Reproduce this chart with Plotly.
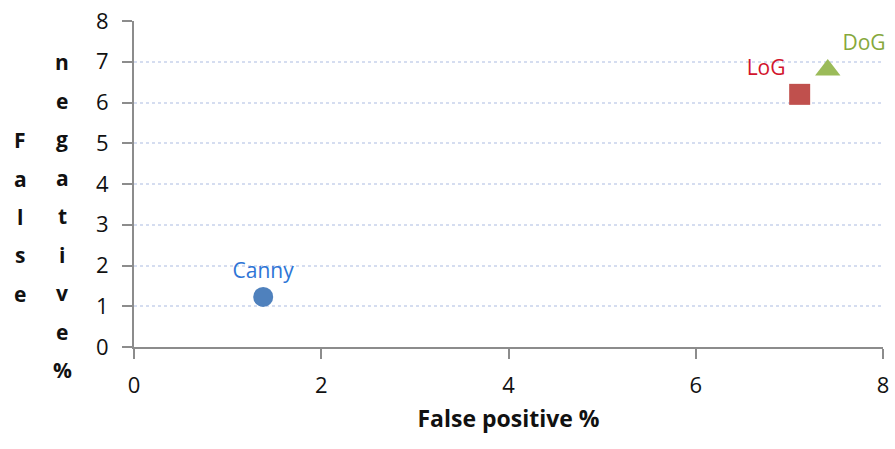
import plotly.graph_objects as go

names = ["Canny", "LoG", "DoG"]
false_pos = [1.38, 7.11, 7.41]
false_neg = [1.23, 6.2, 6.8]
symbols = ["circle", "square", "triangle-up"]
marker_colors = ["#4F81BD", "#C0504D", "#9BBB59"]
label_colors = ["#2E75D6", "#D2142D", "#86A83C"]
text_pos = ["top center", "top left", "top right"]
sizes = [20, 21, 22]

x_title = "False positive %"
y_title_col1 = "False"
y_title_col2 = "negative%"

FONT = "Open Sans"
fig = go.Figure()
for i, n in enumerate(names):
    fig.add_trace(go.Scatter(
        x=[false_pos[i]], y=[false_neg[i]], mode="markers+text",
        text=[n], textposition=text_pos[i],
        textfont=dict(color=label_colors[i], size=21, family=FONT),
        marker=dict(symbol=symbols[i], color=marker_colors[i], size=sizes[i], line=dict(width=0)),
        showlegend=False, cliponaxis=False,
    ))

axis_common = dict(
    range=[0, 8], dtick=2, showline=True, linecolor="#8C8C8C", linewidth=2,
    ticks="outside", ticklen=10, tickwidth=2, tickcolor="#8C8C8C",
    tickfont=dict(size=22, color="#111", family=FONT), zeroline=False, automargin=False,
    ticklabeloverflow="allow",
)
fig.update_xaxes(**axis_common, showgrid=False, ticklabelstandoff=8,
                 title=dict(text="<b>" + x_title + "</b>", font=dict(size=23, color="#111", family=FONT), standoff=12))
fig.update_yaxes(**{**axis_common, "dtick": 1}, showgrid=True, gridcolor="#D5DDF0", griddash="dot", gridwidth=2,
                 ticklabelstandoff=9)

# plot area target on screen: x 134..883, y 21..347 (body margin removed below)
W, H = 895, 449
L = 134
T = 21
R = W - 883
B = H - 347
pw = W - L - R
ph = H - T - B

def xpaper(px):
    return (px - L) / pw

def ypaper(py):
    return (H - B - py) / ph

annotations = []
for k, ch in enumerate(y_title_col1):
    py = 140 + k * 38.5
    annotations.append(dict(text="<b>" + ch + "</b>", x=xpaper(20), xref="paper", y=ypaper(py), yref="paper",
                            showarrow=False, font=dict(size=21, color="#111", family=FONT),
                            xanchor="center", yanchor="middle"))
for k, ch in enumerate(y_title_col2):
    py = 62 + k * 38.5
    annotations.append(dict(text="<b>" + ch + "</b>", x=xpaper(62), xref="paper", y=ypaper(py), yref="paper",
                            showarrow=False, font=dict(size=21, color="#111", family=FONT),
                            xanchor="center", yanchor="middle"))

fig.update_layout(
    width=W, height=H, margin=dict(l=L, r=R, t=T, b=B, autoexpand=False),
    plot_bgcolor="white", paper_bgcolor="white", annotations=annotations,
)
fig.write_html("out.html", config={"displayModeBar": False},
               post_script="document.body.style.margin='0';document.body.style.overflow='hidden';")
